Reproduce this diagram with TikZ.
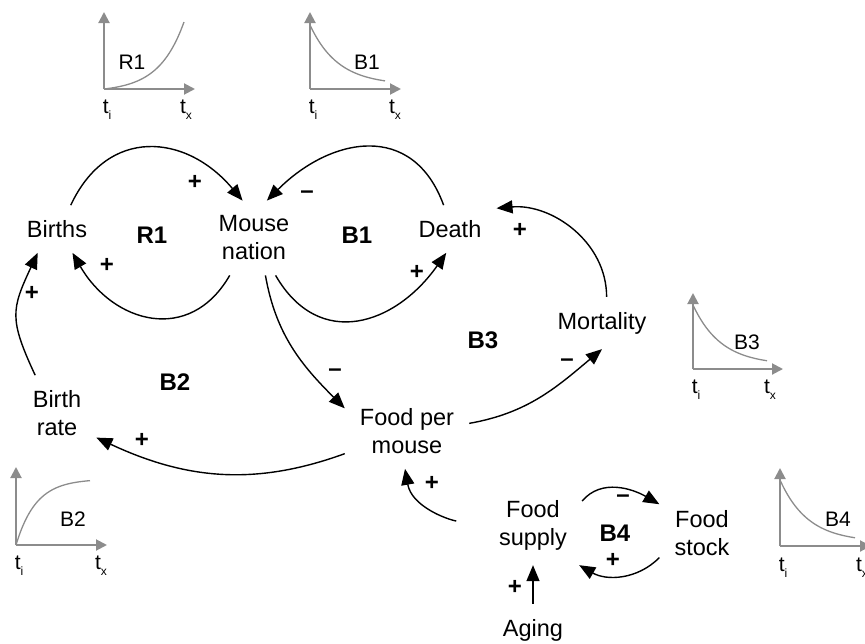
\documentclass[tikz,border=0pt]{standalone}
\usepackage{fontspec}
\setmainfont{Liberation Sans}
\usepackage{xcolor}
\usepackage{tikz}
\usetikzlibrary{arrows.meta, positioning}
\definecolor{axisgray}{HTML}{8C8C8C}
\newcommand{\tsub}[1]{t\raisebox{-6pt}{\fontsize{12}{12}\selectfont #1}}

\begin{document}
\begin{tikzpicture}[x=1pt, y=1pt,
    var/.style={align=center, inner sep=15pt, font=\fontsize{23.5}{28}\selectfont},
    loopname/.style={font=\fontsize{24}{28}\selectfont\bfseries},
    sign/.style={font=\fontsize{24}{26}\selectfont\bfseries, inner sep=0pt},
    link/.style={line width=1.4pt, -{Triangle[length=16pt,width=13pt]}},
    axis/.style={line width=2pt, draw=axisgray, -{Triangle[length=11pt,width=11pt]}},
    trend/.style={line width=1.3pt, draw=axisgray, smooth},
    chartlab/.style={font=\fontsize{21}{24}\selectfont},
    tlab/.style={font=\fontsize{21}{22}\selectfont, inner sep=0pt}]
    \useasboundingbox (0,0) rectangle (865,-643);

    % 变量
    \node[var] (births) at (57,-229) {Births};
    \node[var] (mouse) at (254,-238) {Mouse\\nation};
    \node[var] (death) at (450,-229) {Death};
    \node[var] (mortality) at (602,-323) {Mortality};
    \node[var] (birthrate) at (57,-413) {Birth\\rate};
    \node[var] (foodper) at (407,-431) {Food per\\mouse};
    \node[var] (supply) at (533,-525) {Food\\supply};
    \node[var] (stock) at (702,-533) {Food\\stock};
    \node[var] (aging) at (533,-630) {Aging};

    % 回路
    \node[loopname] (R1) at (152,-235) {R1};
    \node[loopname] (B1) at (357,-235) {B1};
    \node[loopname] (B2) at (175,-382) {B2};
    \node[loopname] (B3) at (483,-340) {B3};
    \node[loopname] (B4) at (615,-533) {B4};

    % 因果链
    \draw[link, looseness=1.3] (births.60) to[out=65, in=130] (mouse.107);
    \draw[link, looseness=1.3] (death.105) to[out=110, in=45] (mouse.71);
    \draw[link, looseness=1.3] (mouse.237) to[out=-120, in=-60] (births.-57);
    \draw[link, looseness=1.3] (mouse.-60) to[out=-60, in=-125] (death.-99);
    \draw[link] (mouse.-73) to[out=-80, in=135] (foodper.160);
    \draw[link] (foodper.7) to[out=10, in=-140] (mortality.-90);
    \draw[link] (mortality.80) to[out=90, in=5] (death.24);
    \draw[link] (foodper.200) to[out=200, in=-25] (birthrate.-32);
    \draw[link, looseness=1.3] (birthrate.120) to[out=115, in=-115] (births.231);
    \draw[link, shorten <=28pt] (supply.181) to[out=170, in=-80] (foodper.-93);
    \draw[link] (supply.26) to[out=50, in=150] (stock.146);
    \draw[link] (stock.210) to[out=-135, in=-30] (supply.-41);
    \draw[link] (aging) -- (supply);

    % 极性
    \node[sign] (s1) at (195,-182) {+};
    \node[sign] (s2) at (307,-195) {–};
    \node[sign] (s3) at (107,-265) {+};
    \node[sign] (s4) at (417,-272) {+};
    \node[sign] (s5) at (335,-373) {–};
    \node[sign] (s6) at (567,-363) {–};
    \node[sign] (s7) at (520,-230) {+};
    \node[sign] (s8) at (142,-440) {+};
    \node[sign] (s9) at (32,-293) {+};
    \node[sign] (s10) at (432,-483) {+};
    \node[sign] (s11) at (623,-499) {–};
    \node[sign] (s12) at (613,-560) {+};
    \node[sign] (s13) at (515,-587) {+};

    % R1 指数增长
    \begin{scope}[shift={(104,-89)}]
        \draw[axis] (0,0) -- (0,77);
        \draw[axis] (0,0) -- (91,0);
        \draw[trend, domain=0:80] plot (\x, {67*(exp(\x/25)-1)/(exp(3.2)-1)});
        \node[chartlab] (r1chart) at (28,27) {R1};
        \node[tlab] (r1ti) at (3,-21) {\tsub{i}};
        \node[tlab] (r1tx) at (82,-21) {\tsub{x}};
    \end{scope}

    % B1 衰减
    \begin{scope}[shift={(310,-89)}]
        \draw[axis] (0,0) -- (0,77);
        \draw[axis] (0,0) -- (91,0);
        \draw[trend, domain=0:75] plot (\x, {4+60*exp(-\x/28)});
        \node[chartlab] (b1chart) at (57,27) {B1};
        \node[tlab] (b1ti) at (3,-21) {\tsub{i}};
        \node[tlab] (b1tx) at (85,-21) {\tsub{x}};
    \end{scope}

    % B2 趋于饱和
    \begin{scope}[shift={(16,-545)}]
        \draw[axis] (0,0) -- (0,78);
        \draw[axis] (0,0) -- (91,0);
        \draw[trend, domain=0:74] plot (\x, {66*(1-exp(-\x/20))});
        \node[chartlab] (b2chart) at (57,26) {B2};
        \node[tlab] (b2ti) at (3,-21) {\tsub{i}};
        \node[tlab] (b2tx) at (85,-21) {\tsub{x}};
    \end{scope}

    % B3 衰减
    \begin{scope}[shift={(693,-369)}]
        \draw[axis] (0,0) -- (0,76);
        \draw[axis] (0,0) -- (90,0);
        \draw[trend, domain=0:74] plot (\x, {4+60*exp(-\x/28)});
        \node[chartlab] (b3chart) at (54,27) {B3};
        \node[tlab] (b3ti) at (3,-21) {\tsub{i}};
        \node[tlab] (b3tx) at (77,-21) {\tsub{x}};
    \end{scope}

    % B4 衰减
    \begin{scope}[shift={(780,-546)}]
        \draw[axis] (0,0) -- (0,78);
        \draw[axis] (0,0) -- (91,0);
        \draw[trend, domain=0:75] plot (\x, {4+62*exp(-\x/28)});
        \node[chartlab] (b4chart) at (58,27) {B4};
        \node[tlab] (b4ti) at (3,-22) {\tsub{i}};
        \node[tlab] (b4tx) at (82,-22) {\tsub{x}};
    \end{scope}
\end{tikzpicture}
\end{document}
